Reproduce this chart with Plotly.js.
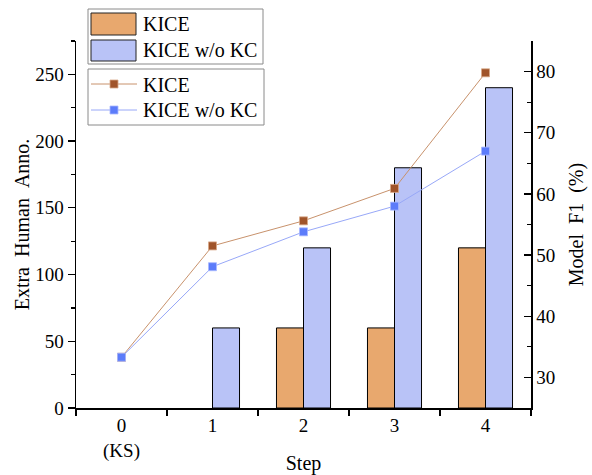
<!DOCTYPE html>
<html>
<head>
<meta charset="utf-8">
<script src="https://cdn.plot.ly/plotly-3.0.1.min.js"></script>
<style>html,body{margin:0;padding:0;background:#fff;}#chart{width:592px;height:475px;}</style>
</head>
<body>
<div id="chart"></div>
<script>
// ---- data ----
const steps = ['0<br>(KS)', '1', '2', '3', '4'];
const annoKICE = [0, 0, 60, 60, 120];
const annoNoKC = [0, 60, 120, 180, 240];
const f1KICE = [33.3, 51.5, 55.6, 60.9, 79.8];
const f1NoKC = [33.3, 48.1, 53.8, 58.0, 67.0];
const seriesNames = ['KICE', 'KICE w/o KC'];

// ---- styles ----
const FONT = '"Liberation Serif", "Times New Roman", serif';
const orangeFill = '#E8A86E';
const blueFill = '#B9C3F7';
const kiceLine = '#C8926C';
const kiceMarker = '#A0542A';
const nokcLine = '#98A8F8';
const nokcMarker = '#5C7CFA';
const edge = v => (v > 0 ? 1 : 0);

const W = 592, H = 475, ML = 76, MR = 61, MT = 41, MB = 67;
const PW = W - ML - MR, PH = H - MT - MB;
const px = x => (x - ML) / PW;
const py = y => (H - MB - y) / PH;
const tf = {family: FONT, size: 19, color: '#000'};
const ttf = {family: FONT, size: 20, color: '#000'};

const traces = [
  {type: 'bar', x: steps, y: annoKICE, name: seriesNames[0], yaxis: 'y',
   marker: {color: orangeFill, line: {color: '#000', width: annoKICE.map(edge)}}},
  {type: 'bar', x: steps, y: annoNoKC, name: seriesNames[1], yaxis: 'y',
   marker: {color: blueFill, line: {color: '#000', width: annoNoKC.map(edge)}}},
  {type: 'scatter', mode: 'lines+markers', x: steps, y: f1KICE, name: seriesNames[0], yaxis: 'y2',
   line: {color: kiceLine, width: 1}, marker: {symbol: 'square', size: 8, color: kiceMarker, line: {color: '#D8A888', width: 0.8}}},
  {type: 'scatter', mode: 'lines+markers', x: steps, y: f1NoKC, name: seriesNames[1], yaxis: 'y2',
   line: {color: nokcLine, width: 1}, marker: {symbol: 'square', size: 8, color: nokcMarker, line: {color: '#A8B8FF', width: 0.8}}}
];

// custom legend (decoration)
const shapes = [];
const annotations = [];
function box(x0, y0, x1, y1) {
  shapes.push({type: 'rect', xref: 'paper', yref: 'paper', x0: px(x0), x1: px(x1), y0: py(y1), y1: py(y0),
    line: {color: '#8a8a8a', width: 1}, fillcolor: '#ffffff', layer: 'above'});
}
function swatch(x0, y0, x1, y1, fill) {
  shapes.push({type: 'rect', xref: 'paper', yref: 'paper', x0: px(x0), x1: px(x1), y0: py(y1), y1: py(y0),
    line: {color: '#222', width: 1}, fillcolor: fill, layer: 'above'});
}
function lineItem(y, lc, mc, ml) {
  shapes.push({type: 'line', xref: 'paper', yref: 'paper', x0: px(91), x1: px(137), y0: py(y), y1: py(y),
    line: {color: lc, width: 1}, layer: 'above'});
  shapes.push({type: 'rect', xref: 'paper', yref: 'paper', x0: px(110), x1: px(118), y0: py(y + 4), y1: py(y - 4),
    line: {color: ml, width: 0.8}, fillcolor: mc, layer: 'above'});
}
function label(x, y, t) {
  annotations.push({xref: 'paper', yref: 'paper', x: px(x), y: py(y), text: t, showarrow: false,
    xanchor: 'left', yanchor: 'middle', font: ttf});
}
box(88, 9, 263, 64);
swatch(91, 13, 136, 35, orangeFill);
swatch(91, 40, 136, 61, blueFill);
label(141, 24, seriesNames[0]);
label(141, 50, seriesNames[1]);
box(88, 69, 264, 125);
lineItem(84, kiceLine, kiceMarker, '#D8A888');
lineItem(110, nokcLine, nokcMarker, '#A8B8FF');
label(141, 85, seriesNames[0]);
label(141, 110, seriesNames[1]);

const layout = {
  width: W, height: H,
  margin: {l: ML, r: MR, t: MT, b: MB, pad: 0},
  paper_bgcolor: '#fff', plot_bgcolor: '#fff',
  font: tf,
  showlegend: false,
  barmode: 'group', bargap: 0.406, bargroupgap: 0,
  xaxis: {type: 'category', range: [-0.5, 4.5], tickson: 'boundaries', ticks: 'outside', ticklen: 6,
    tickwidth: 1.3, tickcolor: '#000', showline: true, linecolor: '#000', linewidth: 1.5, showgrid: false,
    tickfont: tf, title: {text: 'Step', font: ttf, standoff: 0}},
  yaxis: {range: [0, 275], tickvals: [0, 50, 100, 150, 200, 250], ticks: 'outside', ticklen: 7, tickwidth: 1.3,
    tickcolor: '#000', showline: true, linecolor: '#000', linewidth: 1.5, showgrid: false, zeroline: false,
    minor: {tickvals: [25, 75, 125, 175, 225, 275], ticks: 'outside', ticklen: 4, tickwidth: 1.3, tickcolor: '#000', showgrid: false},
    tickfont: tf,
    title: {text: 'Extra&nbsp;&nbsp;Human&nbsp;&nbsp;Anno.', font: ttf, standoff: 0}},
  yaxis2: {overlaying: 'y', side: 'right', range: [25, 85], tickvals: [30, 40, 50, 60, 70, 80], ticks: 'inside',
    ticklen: 7, tickwidth: 1.3, tickcolor: '#000', showline: true, linecolor: '#000', linewidth: 1.5,
    showgrid: false, zeroline: false,
    minor: {tickvals: [35, 45, 55, 65, 75, 85], ticks: 'inside', ticklen: 4, tickwidth: 1.3, tickcolor: '#000', showgrid: false},
    tickfont: tf,
    title: {text: 'Model&nbsp;&nbsp;F1&nbsp;&nbsp;(%)', font: ttf, standoff: 14}},
  shapes: shapes,
  annotations: annotations
};

Plotly.newPlot('chart', traces, layout, {staticPlot: true, displayModeBar: false});
</script>
</body>
</html>
